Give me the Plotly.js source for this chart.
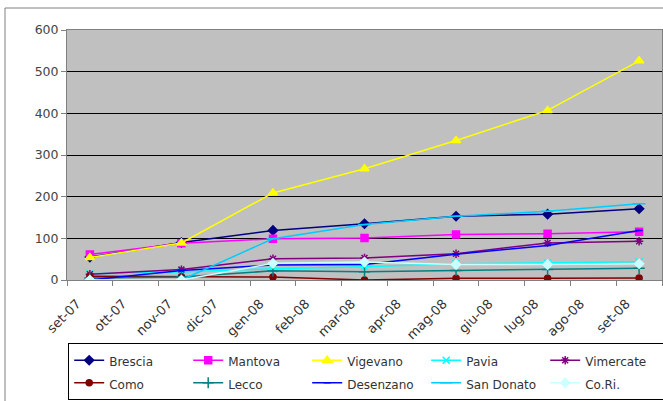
<!DOCTYPE html>
<html>
<head>
<meta charset="utf-8">
<script src="https://cdn.plot.ly/plotly-3.0.1.min.js"></script>
<style>
html,body{margin:0;padding:0;background:#fff;}
#chart{width:663px;height:401px;}
</style>
</head>
<body>
<div id="chart"></div>
<script>
// Month labels (ticks at month starts)
const monthLabels = ["set-07","ott-07","nov-07","dic-07","gen-08","feb-08","mar-08","apr-08","mag-08","giu-08","lug-08","ago-08","set-08"];
// Data sampled mid-month every two months (month index + 0.5)
const xPoints = [0.5, 2.5, 4.5, 6.5, 8.5, 10.5, 12.5];

const seriesNames = ["Brescia","Mantova","Vigevano","Pavia","Vimercate","Como","Lecco","Desenzano","San Donato","Co.Ri."];
const brescia   = [55, 90, 119, 135, 153, 158, 171];
const mantova   = [61, 88, 99, 101, 109, 111, 116];
const vigevano  = [54, 89, 209, 267, 335, 407, 526];
const pavia     = [15, 19, 27, 32, 39, 41, 44];
const vimercate = [14, 25, 51, 53, 63, 89, 93];
const como      = [9, 8, 7, 0, 4, 4, 5];
const lecco     = [5, 7, 22, 20, 23, 25, 28];
const desenzano = [0, 23, 36, 37, 62, 83, 119];
const sanDonato = [0, 0, 99, 133, 153, 165, 183];
const cori      = [0, 0, 40, 43, 37, 37, 39];

const values = [brescia, mantova, vigevano, pavia, vimercate, como, lecco, desenzano, sanDonato, cori];
const colors = ["#000080","#FF00FF","#FFFF00","#00FFFF","#800080","#800000","#008080","#0000FF","#00CCFF","#CCFFFF"];
const symbols = ["diamond","square","triangle-up","x-thin-open","asterisk-open","circle","cross-thin-open","line-ew-open","line-ew-open","diamond"];
const sizes = [7,7,8,7,7,6,8,5,9,7];

const traces = seriesNames.map((n,i)=>({
  type:'scatter', mode:'lines+markers',
  name:'<span style="font-size:12px">' + n + '</span>',
  x:xPoints, y:values[i],
  line:{color:colors[i], width:1.5},
  marker:{symbol:symbols[i], color:colors[i], size:sizes[i], line:{color:colors[i], width:1.5}},
  hoverinfo:'skip'
}));

const tickVals = monthLabels.map((_,i)=>i).concat([13]);
const tickText = monthLabels.concat([""]);

const layout = {
  width:663, height:401,
  margin:{l:67, r:1, t:30, b:121, pad:0, autoexpand:false},
  paper_bgcolor:'#ffffff',
  plot_bgcolor:'#C0C0C0',
  font:{family:'"DejaVu Sans", Verdana, sans-serif', size:12, color:'#333333'},
  showlegend:true,
  xaxis:{
    type:'linear', range:[0,13], tickmode:'array', tickvals:tickVals, ticktext:tickText,
    tickangle:-45, ticks:'outside', ticklen:5, tickcolor:'#808080',
    ticklabelshift:10, ticklabelstandoff:5,
    showgrid:false, zeroline:false, showline:true, linecolor:'#808080', linewidth:1, mirror:true,
    tickfont:{size:13, color:'#333333'}, automargin:false
  },
  yaxis:{
    range:[0,600], tickmode:'linear', tick0:0, dtick:100,
    ticks:'outside', ticklen:5, tickcolor:'#808080',
    showgrid:true, gridcolor:'#000000', gridwidth:1, zeroline:false,
    showline:true, linecolor:'#808080', linewidth:1, mirror:true,
    tickfont:{size:12.5, color:'#444444'}, automargin:false
  },
  legend:{
    orientation:'h', x:0.002, xanchor:'left', y:-0.252, yanchor:'top',
    bgcolor:'#ffffff', bordercolor:'#000000', borderwidth:1,
    entrywidth:74, entrywidthmode:'pixels', traceorder:'normal',
    font:{size:15, color:'#333333'}
  },
  shapes:[
    {type:'line', xref:'paper', yref:'paper', x0:-0.1042, x1:1.01, y0:1.088, y1:1.088, line:{color:'#808080', width:1}},
    {type:'line', xref:'paper', yref:'paper', x0:-0.1042, x1:-0.1042, y0:1.088, y1:-0.6, line:{color:'#808080', width:1}}
  ]
};

Plotly.newPlot('chart', traces, layout, {staticPlot:true, displayModeBar:false});
</script>
</body>
</html>
